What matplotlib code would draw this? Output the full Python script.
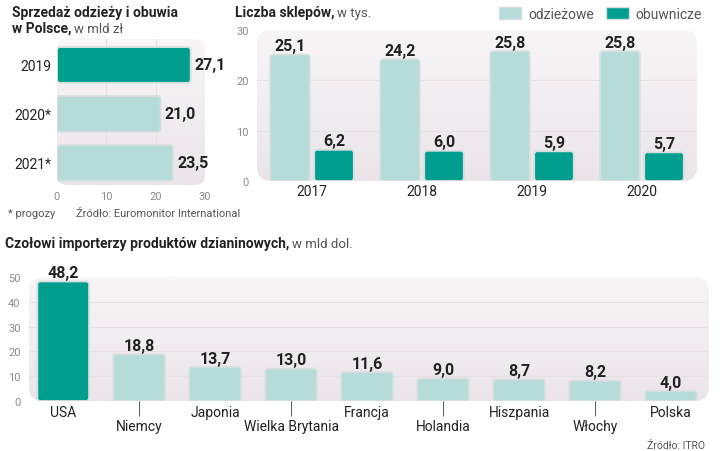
import numpy as np
import matplotlib
matplotlib.use('Agg')
import matplotlib.pyplot as plt
from matplotlib.patches import FancyBboxPatch, Patch

# --- data -------------------------------------------------------------
sales_years = ['2019', '2020*', '2021*']
sales_values = [27.1, 21.0, 23.5]

shop_years = ['2017', '2018', '2019', '2020']
shops_clothes = [25.1, 24.2, 25.8, 25.8]
shops_shoes = [6.2, 6.0, 5.9, 5.7]

importers = ['USA', 'Niemcy', 'Japonia', 'Wielka Brytania', 'Francja',
             'Holandia', 'Hiszpania', 'Włochy', 'Polska']
import_values = [48.2, 18.8, 13.7, 13.0, 11.6, 9.0, 8.7, 8.2, 4.0]

# --- style ------------------------------------------------------------
DARK = '#009e8f'
LIGHT = '#b6dcd9'
EDGE = '#d6dfde'
GRID = '#e6e0e4'
TICK = '#8a8a8a'
TXT = '#222222'
SOFT = '#555555'

REG = ['Roboto', 'DejaVu Sans']
plt.rcParams['font.family'] = REG

W, H = 720, 452
fig = plt.figure(figsize=(W / 100, H / 100), dpi=100)


def px_axes(left, top, right, bottom):
    return fig.add_axes([left / W, 1 - bottom / H, (right - left) / W,
                         (bottom - top) / H])


def fmt(v):
    return f'{v:.1f}'.replace('.', ',')


def panel(ax, r=10):
    # rounded gradient background behind the plot area
    w, h = ax.bbox.width, ax.bbox.height
    box = FancyBboxPatch((0, 0), 1, 1,
                         boxstyle=f'round,pad=0,rounding_size={r / w}',
                         transform=ax.transAxes, facecolor='none',
                         edgecolor='none', mutation_aspect=w / h)
    ax.add_patch(box)
    grad = np.linspace(0, 1, 100).reshape(-1, 1)
    cmap = matplotlib.colors.LinearSegmentedColormap.from_list(
        'bg', ['#ebe5e9', '#f8f5f7'])
    im = ax.imshow(grad, extent=[0, 1, 0, 1], transform=ax.transAxes,
                   origin='lower', cmap=cmap, aspect='auto', zorder=0)
    im.set_clip_path(box)
    for s in ax.spines.values():
        s.set_visible(False)
    ax.set_facecolor('none')


def round_bars(ax, bars, r=3):
    # swap plain rectangles for rounded ones of the same data extent
    x0, x1 = ax.get_xlim()
    y0, y1 = ax.get_ylim()
    ux = abs(x1 - x0) / ax.bbox.width
    uy = abs(y1 - y0) / ax.bbox.height
    for rect in bars:
        xy = rect.get_xy()
        p = FancyBboxPatch(xy, rect.get_width(), rect.get_height(),
                           boxstyle=f'round,pad=0,rounding_size={r * ux}',
                           mutation_aspect=uy / ux,
                           facecolor=rect.get_facecolor(), edgecolor=EDGE,
                           linewidth=1.3, zorder=3)
        ax.add_patch(p)
        rect.set_visible(False)


def title(x, y, bold, rest):
    t = fig.text(x / W, 1 - y / H, bold, fontweight='bold',
                 fontsize=10, color=TXT, va='baseline')
    if rest:
        plt.annotate(rest, xy=(1, 0), xycoords=t, xytext=(2, 0),
                     textcoords='offset points', va='bottom', fontsize=9.5,
                     color=SOFT, annotation_clip=False)
    return t


VAL = dict(fontweight='bold', fontsize=11.5, color=TXT)

# --- chart 1: sales ---------------------------------------------------
ax1 = px_axes(57, 40, 205, 186)
ax1.set_xlim(0, 30)
ax1.set_ylim(2.45, -0.53)
panel(ax1)
bars = ax1.barh(range(3), sales_values, height=0.73,
                color=[DARK, LIGHT, LIGHT], zorder=3)
round_bars(ax1, bars)
ax1.bar_label(bars, labels=[fmt(v) for v in sales_values], padding=3, **VAL)
ax1.set_xticks([0, 10, 20, 30])
ax1.set_yticks(range(3), sales_years)
ax1.tick_params(axis='x', length=0, labelsize=8, labelcolor=TICK, pad=4)
ax1.tick_params(axis='y', length=0, labelsize=10, labelcolor=TXT, pad=4)
for v in [10, 20]:
    ax1.axvline(v, color=GRID, lw=0.8, zorder=1)

title(12, 17, 'Sprzedaż odzieży i obuwia', '')
title(12, 33, 'w Polsce,', 'w mld zł')
fig.text(8 / W, 1 - 217 / H, '* progozy', fontsize=8, color=SOFT)
fig.text(76 / W, 1 - 217 / H, 'Źródło: Euromonitor International',
         fontsize=8, color=SOFT)

# --- chart 2: shops ---------------------------------------------------
ax2 = px_axes(257, 31, 697, 182)
ax2.set_xlim(-0.5, 3.5)
ax2.set_ylim(0, 30)
panel(ax2, r=14)
x = np.arange(len(shop_years))
b1 = ax2.bar(x - 0.2, shops_clothes, width=0.36, color=LIGHT, zorder=3)
b2 = ax2.bar(x + 0.2, shops_shoes, width=0.36, color=DARK, zorder=3)
for b, vals in [(b1, shops_clothes), (b2, shops_shoes)]:
    round_bars(ax2, b)
    ax2.bar_label(b, labels=[fmt(v) for v in vals], padding=1, **VAL)
ax2.set_yticks([0, 10, 20, 30])
ax2.set_xticks(x, shop_years)
ax2.tick_params(axis='y', length=0, labelsize=8, labelcolor=TICK, pad=6)
ax2.tick_params(axis='x', length=0, labelsize=10, labelcolor=TXT, pad=2)
for v in [10, 20]:
    ax2.axhline(v, color=GRID, lw=0.8, zorder=1)

title(235, 17, 'Liczba sklepów,', 'w tys.')
fig.legend(handles=[Patch(facecolor=LIGHT, edgecolor=EDGE, label='odzieżowe'),
                    Patch(facecolor=DARK, edgecolor=EDGE, label='obuwnicze')],
           loc='center right', bbox_to_anchor=(702 / W, 1 - 15 / H), ncol=2,
           frameon=False, fontsize=10, labelcolor=SOFT, handlelength=1.6,
           handleheight=0.9, handletextpad=0.5, columnspacing=0.9,
           borderpad=0, borderaxespad=0)

# --- chart 3: importers -----------------------------------------------
ax3 = px_axes(29, 278, 709, 402)
ax3.set_xlim(-0.45, 8.5)
ax3.set_ylim(0, 50)
panel(ax3, r=14)
xi = np.arange(len(importers))
colors = [DARK] + [LIGHT] * (len(importers) - 1)
b3 = ax3.bar(xi, import_values, width=0.68, color=colors, zorder=3)
round_bars(ax3, b3)
ax3.bar_label(b3, labels=[fmt(v) for v in import_values], padding=1, **VAL)
ax3.set_yticks([0, 10, 20, 30, 40, 50])
ax3.tick_params(axis='y', length=0, labelsize=8, labelcolor=TICK, pad=6)
for v in [10, 20, 30, 40]:
    ax3.axhline(v, color=GRID, lw=0.8, zorder=1)

ax3.set_xticks(xi[::2], importers[::2])
ax3.set_xticks(xi[1::2], importers[1::2], minor=True)
ax3.tick_params(axis='x', which='major', length=0, labelsize=10,
                labelcolor=TXT, pad=3)
ax3.tick_params(axis='x', which='minor', length=11, width=0.8, color='#666666',
                direction='out', labelsize=10, labelcolor=TXT, pad=2)

title(5, 248, 'Czołowi importerzy produktów dzianinowych,', 'w mld dol.')
fig.text(705 / W, 1 - 449 / H, 'Źródło: ITRO', fontsize=7.5, color=SOFT,
         ha='right')

fig.savefig('out.png', dpi=100)
